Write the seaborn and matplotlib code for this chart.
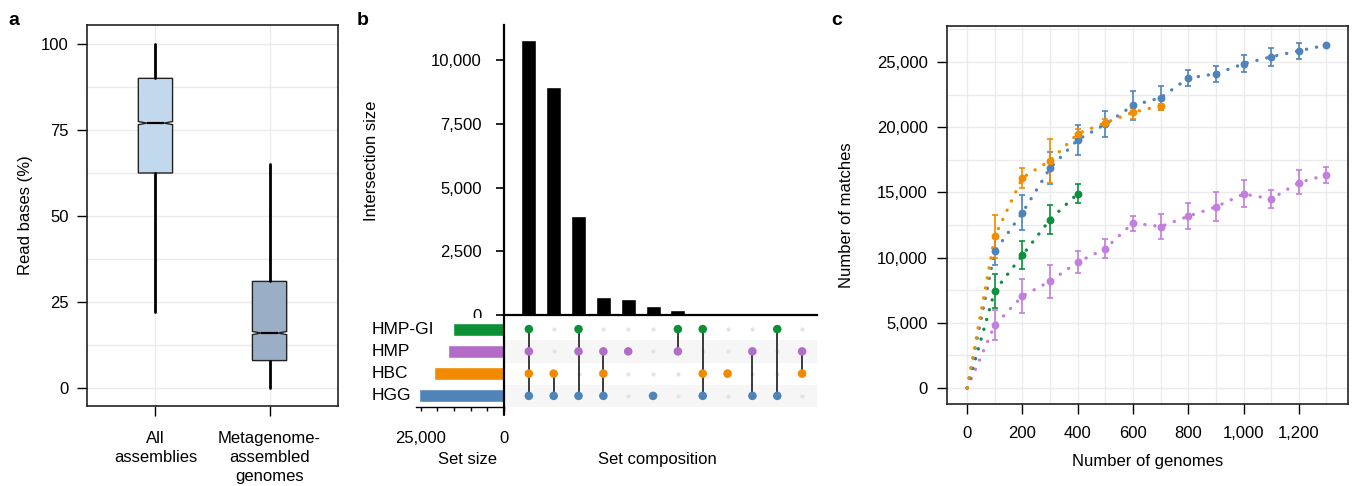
import numpy as np
import pandas as pd
import matplotlib
matplotlib.use('Agg')
import matplotlib.pyplot as plt
import matplotlib.transforms as mtrans
import seaborn as sns
from matplotlib.ticker import FuncFormatter, MultipleLocator

sns.set_theme(style='white')
plt.rcParams['font.family'] = ['Liberation Sans', 'DejaVu Sans']
plt.rcParams['font.size'] = 12
plt.rcParams['text.color'] = 'black'
plt.rcParams['axes.labelcolor'] = 'black'
plt.rcParams['xtick.color'] = 'black'
plt.rcParams['ytick.color'] = 'black'

# ---- data: panel a (box summary values, read bases %) ----
box_groups = ['All\nassemblies', 'Metagenome-\nassembled\ngenomes']
box_whislo = [22, 0]
box_q1 = [62.5, 8]
box_med = [77, 16]
box_q3 = [90, 31]
box_whishi = [100, 65]
box_colors = ['#c2d8ed', '#9aafc6']

# ---- data: panel b (upset) ----
set_names = ['HMP-GI', 'HMP', 'HBC', 'HGG']
set_sizes = [15300, 16800, 20900, 25400]
set_colors = ['#0b9035', '#b36bc8', '#f28a00', '#4f84b8']
inter_sizes = [10800, 8950, 3880, 720, 640, 340, 210, 65, 15, 10, 8, 5]
inter_members = [
    ['HMP-GI', 'HMP', 'HBC', 'HGG'],
    ['HBC', 'HGG'],
    ['HMP-GI', 'HMP', 'HGG'],
    ['HMP', 'HBC', 'HGG'],
    ['HMP'],
    ['HGG'],
    ['HMP-GI', 'HMP'],
    ['HMP-GI', 'HBC', 'HGG'],
    ['HBC'],
    ['HMP', 'HGG'],
    ['HMP-GI', 'HGG'],
    ['HMP', 'HBC'],
]

# ---- data: panel c (rarefaction, mean and error range) ----
genomes_long = [0, 100, 200, 300, 400, 500, 600, 700, 800, 900, 1000, 1100, 1200, 1300]
hgg_mean = [0, 10470, 13450, 16870, 19040, 20220, 21670, 22260, 23760, 24100, 24860, 25400, 25860, 26290]
hgg_lo = [0, 9420, 12100, 15680, 17840, 19220, 20570, 21290, 23130, 23460, 24220, 24680, 25240, 26290]
hgg_hi = [0, 11520, 14780, 18100, 20190, 21210, 22770, 23180, 24400, 24730, 25520, 26060, 26420, 26290]

hbc_genomes = [0, 100, 200, 300, 400, 500, 600, 700]
hbc_mean = [0, 11640, 16130, 17430, 19500, 20340, 21140, 21650]
hbc_lo = [0, 9980, 15340, 15700, 19090, 20060, 20620, 21290]
hbc_hi = [0, 13300, 16900, 19070, 19880, 20620, 21490, 21800]

hmpgi_genomes = [0, 100, 200, 300, 400]
hmpgi_mean = [0, 7460, 10190, 12920, 14910]
hmpgi_lo = [0, 6100, 9120, 11790, 14190]
hmpgi_hi = [0, 8780, 11260, 14070, 15620]

hmp_mean = [0, 4830, 7050, 8190, 9650, 10690, 12660, 12380, 13170, 13890, 14880, 14500, 15750, 16340]
hmp_lo = [0, 3680, 5720, 6940, 8810, 9980, 12050, 11410, 12180, 12790, 13890, 13790, 14860, 15700]
hmp_hi = [0, 6020, 8350, 9440, 10490, 11410, 13220, 13350, 14170, 15040, 15930, 15160, 16690, 16950]

curve_colors = {'HMP': '#c47ede', 'HMP-GI': '#0b903b', 'HGG': '#4e84bb', 'HBC': '#f28c00'}

comma = FuncFormatter(lambda v, p: f'{int(round(v)):,}')
grid_c = '#ebebeb'

W, H = 1360, 486
fig = plt.figure(figsize=(13.6, 4.86), dpi=100)


def px_axes(x0, y0, x1, y1):
    return fig.add_axes([x0 / W, 1 - y1 / H, (x1 - x0) / W, (y1 - y0) / H])


# ---- a. boxplot ----
ax_a = px_axes(87, 25, 338, 406)
stats = []
for i in range(len(box_groups)):
    stats.append(dict(med=box_med[i], q1=box_q1[i], q3=box_q3[i],
                      whislo=box_whislo[i], whishi=box_whishi[i],
                      cilo=box_med[i] - 0.45, cihi=box_med[i] + 0.45,
                      fliers=[], label=box_groups[i]))
bp = ax_a.bxp(stats, positions=[0, 1], widths=0.3, shownotches=True,
              showcaps=False, showfliers=False, patch_artist=True,
              boxprops=dict(edgecolor='#222222', linewidth=1.0),
              whiskerprops=dict(color='black', linewidth=2.0),
              medianprops=dict(color='black', linewidth=1.6))
for patch, c in zip(bp['boxes'], box_colors):
    patch.set_facecolor(c)
ax_a.set_xlim(-0.6, 1.6)
ax_a.set_ylim(-5.2, 105.5)
ax_a.yaxis.set_major_locator(MultipleLocator(25))
ax_a.yaxis.set_minor_locator(MultipleLocator(12.5))
ax_a.set_xticks([0, 1])
ax_a.set_xticklabels(box_groups, linespacing=1.32)
ax_a.grid(which='both', color=grid_c, lw=1.0)
ax_a.set_axisbelow(True)
ax_a.tick_params(axis='both', which='major', direction='out', length=7, width=1.0,
                 labelsize=12, bottom=True, left=True)
ax_a.tick_params(axis='y', pad=6)
ax_a.tick_params(axis='x', pad=11)
ax_a.tick_params(which='minor', length=0)
for s in ax_a.spines.values():
    s.set_color('#222222')
    s.set_linewidth(1.2)
ax_a.set_ylabel('Read bases (%)', fontsize=12, labelpad=6)

# ---- b. upset: intersection bars ----
n_inter = len(inter_sizes)
cols = list(range(n_inter))
ax_b = px_axes(504, 25, 817, 315)
sns.barplot(x=cols, y=inter_sizes, native_scale=True, color='black', width=0.6,
            errorbar=None, saturation=1, ax=ax_b)
ax_b.set_xlim(-1.0, 11.6)
ax_b.set_ylim(0, 11390)
ax_b.yaxis.set_major_locator(MultipleLocator(2500))
ax_b.yaxis.set_major_formatter(comma)
ax_b.set_xticks([])
ax_b.set_xlabel('')
for side in ['top', 'right']:
    ax_b.spines[side].set_visible(False)
for side in ['left', 'bottom']:
    ax_b.spines[side].set_color('black')
    ax_b.spines[side].set_linewidth(1.6)
ax_b.tick_params(axis='y', direction='out', length=6, width=1.2, pad=10, labelsize=12, left=True)
ax_b.set_ylabel('Intersection size', fontsize=12)
ax_b.yaxis.set_label_coords(-0.40, 0.53)

# ---- b. upset: membership matrix ----
ax_m = px_axes(504, 318, 817, 407)
row_of = {s: i for i, s in enumerate(set_names)}
for r in [1, 3]:
    ax_m.axhspan(r - 0.5, r + 0.5, color='#f6f6f6', zorder=0, lw=0)
cells = pd.DataFrame([(c, r) for c in cols for r in range(len(set_names))], columns=['col', 'row'])
active = pd.DataFrame([(c, row_of[s], s) for c in cols for s in inter_members[c]],
                      columns=['col', 'row', 'set'])
sns.scatterplot(data=cells, x='col', y='row', color='#e3e3e3', s=9, linewidth=0,
                legend=False, ax=ax_m, zorder=2)
for c in cols:
    rows = active.loc[active['col'] == c, 'row']
    if len(rows) > 1:
        ax_m.vlines(c, rows.min(), rows.max(), color='#3a3a3a', lw=1.4, zorder=3)
sns.scatterplot(data=active, x='col', y='row', hue='set', palette=dict(zip(set_names, set_colors)),
                s=38, linewidth=0, legend=False, ax=ax_m, zorder=4)
ax_m.set_xlim(-1.0, 11.6)
ax_m.set_ylim(3.5, -0.5)
ax_m.set_xticks([])
ax_m.set_yticks([])
ax_m.set_xlabel('')
ax_m.set_ylabel('')
for s in ax_m.spines.values():
    s.set_visible(False)

# ---- b. upset: set sizes ----
ax_s = px_axes(416, 318, 504, 407)
sns.barplot(x=set_sizes, y=list(range(len(set_names))), hue=set_names, palette=set_colors,
            orient='h', native_scale=True, dodge=False, width=0.58, errorbar=None,
            saturation=1, legend=False, ax=ax_s)
ax_s.set_xlim(26350, 0)
ax_s.set_ylim(3.5, -0.5)
ax_s.set_yticks([])
ax_s.set_ylabel('')
ax_s.set_xlabel('')
ax_s.xaxis.set_major_locator(MultipleLocator(5000))
ax_s.xaxis.set_major_formatter(FuncFormatter(lambda v, p: f'{int(v):,}' if int(v) in (0, 25000) else ''))
ax_s.tick_params(axis='x', direction='out', length=3, width=1.0, pad=14, labelsize=12, bottom=True)
for side in ['top', 'left', 'right']:
    ax_s.spines[side].set_visible(False)
ax_s.spines['bottom'].set_color('black')
ax_s.spines['bottom'].set_linewidth(1.0)
lab_tr = mtrans.blended_transform_factory(ax_s.transAxes, ax_s.transData)
for i, name in enumerate(set_names):
    ax_s.text(-0.5, i, name, transform=lab_tr, ha='left', va='center', fontsize=12.5)
fig.add_artist(plt.Line2D([504 / W, 504 / W], [1 - 415 / H, 1 - 315 / H], color='black', lw=1.6,
                          transform=fig.transFigure))
fig.text(467 / W, 1 - 459 / H, 'Set size', ha='center', va='center', fontsize=12)
fig.text(657 / W, 1 - 459 / H, 'Set composition', ha='center', va='center', fontsize=12)

# ---- c. rarefaction curves ----
ax_c = px_axes(947, 26, 1348, 404)
curves = [
    ('HMP', genomes_long, hmp_mean, hmp_lo, hmp_hi),
    ('HMP-GI', hmpgi_genomes, hmpgi_mean, hmpgi_lo, hmpgi_hi),
    ('HGG', genomes_long, hgg_mean, hgg_lo, hgg_hi),
    ('HBC', hbc_genomes, hbc_mean, hbc_lo, hbc_hi),
]
for name, gx, gm, glo, ghi in curves:
    col = curve_colors[name]
    d = pd.DataFrame({'genomes': gx, 'matches': gm})
    sns.lineplot(data=d, x='genomes', y='matches', color=col, lw=2.4,
                 linestyle=(0, (0.05, 3.0)), dash_capstyle='round', errorbar=None, ax=ax_c, zorder=2)
    pts = d[d['genomes'] > 0]
    sns.scatterplot(data=pts, x='genomes', y='matches', color=col, s=32, linewidth=0,
                    legend=False, ax=ax_c, zorder=4)
    m = np.array(gm[1:])
    ax_c.errorbar(gx[1:], m, yerr=[m - np.array(glo[1:]), np.array(ghi[1:]) - m], fmt='none',
                  ecolor=col, elinewidth=1.2, capsize=2.4, capthick=1.2, zorder=3)
ax_c.set_xlim(-73, 1378)
ax_c.set_ylim(-1225, 27760)
ax_c.xaxis.set_major_locator(MultipleLocator(200))
ax_c.xaxis.set_minor_locator(MultipleLocator(100))
ax_c.yaxis.set_major_locator(MultipleLocator(5000))
ax_c.yaxis.set_minor_locator(MultipleLocator(2500))
ax_c.xaxis.set_major_formatter(comma)
ax_c.yaxis.set_major_formatter(comma)
ax_c.grid(which='both', color=grid_c, lw=1.0)
ax_c.set_axisbelow(True)
ax_c.tick_params(which='major', direction='out', length=7, width=1.0, pad=7, labelsize=12,
                 bottom=True, left=True)
ax_c.tick_params(axis='x', pad=9)
ax_c.tick_params(which='minor', length=0)
for s in ax_c.spines.values():
    s.set_color('#222222')
    s.set_linewidth(1.2)
ax_c.set_xlabel('Number of genomes', fontsize=12, labelpad=9)
ax_c.set_ylabel('Number of matches', fontsize=12, labelpad=16)

# ---- panel letters ----
for x, letter in [(8, 'a'), (357, 'b'), (831, 'c')]:
    fig.text(x / W, 1 - 25 / H, letter, fontsize=14, fontweight='bold', va='baseline')

plt.savefig('out.png', dpi=100)
